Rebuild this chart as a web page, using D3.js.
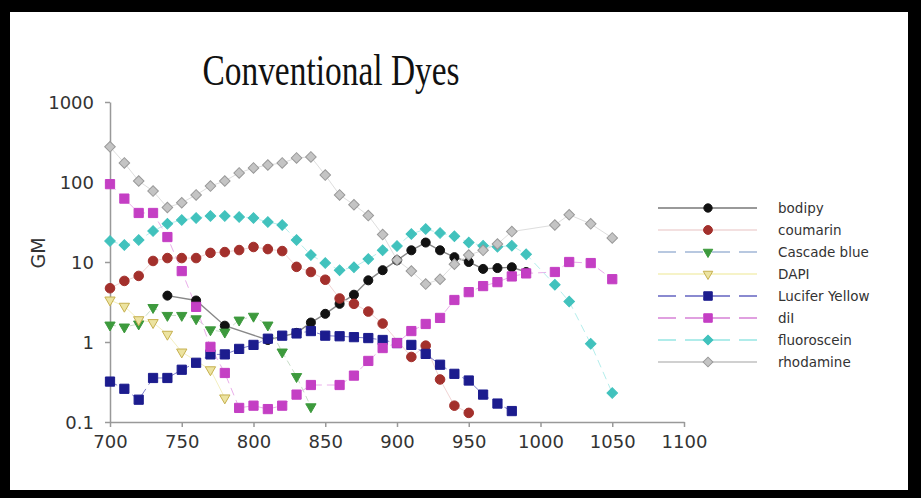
<!DOCTYPE html>
<html>
<head>
<meta charset="utf-8">
<script src="https://cdn.jsdelivr.net/npm/d3@7"></script>
<style>
  html, body { margin: 0; padding: 0; background: #000; }
  svg { display: block; }
</style>
</head>
<body>
<svg width="921" height="498"></svg>
<script>
// wavelength (nm) / GM pairs
const bodipy = [[740,3.8],[760,3.3],[780,1.6],[810,1.06],[830,1.3],[840,1.75],[850,2.25],[860,3.0],[870,3.9],[880,5.9],[890,7.9],[900,10.5],[910,14],[920,17.5],[930,14],[940,11.5],[950,10],[960,8.2],[970,8.4],[980,8.6],[990,7.5]];
const coumarin = [[700,4.7],[710,5.8],[720,6.7],[730,10.3],[740,11.2],[750,11.2],[760,11.2],[770,13],[780,13.3],[790,14.1],[800,15.4],[810,14.5],[820,13.7],[830,8.7],[840,7.5],[850,6.0],[860,3.5],[870,3.0],[880,2.4],[890,1.7],[910,0.65],[920,0.9],[930,0.34],[940,0.16],[950,0.13]];
const cascadeBlue = [[700,1.63],[710,1.54],[720,1.68],[730,2.7],[740,2.15],[750,2.15],[760,1.95],[770,1.42],[780,1.33],[790,1.88],[800,2.1],[810,1.63],[820,0.75],[830,0.37],[840,0.155]];
const dapi = [[700,3.35],[710,2.8],[720,1.9],[730,1.75],[740,1.25],[750,0.75],[770,0.45],[780,0.2]];
const luciferYellow = [[700,0.32],[710,0.26],[720,0.19],[730,0.355],[740,0.355],[750,0.45],[760,0.55],[770,0.7],[780,0.7],[790,0.82],[800,0.92],[810,1.1],[820,1.2],[830,1.28],[840,1.37],[850,1.2],[860,1.18],[870,1.15],[880,1.12],[890,1.06],[900,0.97],[910,0.92],[920,0.71],[930,0.52],[940,0.4],[950,0.33],[960,0.22],[970,0.17],[980,0.137]];
const diI = [[700,94],[710,62],[720,41],[730,41],[740,20.5],[750,7.7],[760,2.75],[770,0.87],[780,0.41],[790,0.15],[800,0.16],[810,0.145],[820,0.16],[830,0.22],[840,0.29],[860,0.29],[870,0.38],[880,0.58],[890,0.84],[900,0.97],[910,1.37],[920,1.68],[930,2.0],[940,3.35],[950,4.2],[960,5.0],[970,5.6],[980,6.6],[990,7.2],[1010,7.5],[1020,10],[1035,9.7],[1050,6.1]];
const fluoroscein = [[700,18.3],[710,16.3],[720,18.8],[730,24.4],[740,30],[750,33.5],[760,35.5],[770,37.5],[780,37.5],[790,36.5],[800,35.5],[810,31.6],[820,29],[830,18.8],[840,12.2],[850,9.7],[860,7.9],[870,8.6],[880,10.9],[890,14],[900,15.8],[910,22.4],[920,25.8],[930,23],[940,21],[950,17.5],[960,16],[970,15.5],[980,16],[990,12.5],[1010,5.2],[1020,3.2],[1035,0.95],[1050,0.23]];
const rhodamine = [[700,275],[710,173],[720,103],[730,77],[740,48],[750,55],[760,69],[770,89],[780,103],[790,130],[800,150],[810,163],[820,173],[830,200],[840,206],[850,122],[860,69],[870,52],[880,38],[890,22],[900,10.6],[910,7.7],[920,5.3],[930,6.1],[940,9.4],[950,12.2],[960,14],[970,16.8],[980,24],[1010,29],[1020,39],[1035,30],[1050,20]];

const seriesNames = ["bodipy", "coumarin", "Cascade blue", "DAPI", "Lucifer Yellow", "diI", "fluoroscein", "rhodamine"];
const seriesData = [bodipy, coumarin, cascadeBlue, dapi, luciferYellow, diI, fluoroscein, rhodamine];
const xTicks = [700, 750, 800, 850, 900, 950, 1000, 1050, 1100];
const yTicks = [0.1, 1, 10, 100, 1000];

// look of each series
const styles = [
    {shape: "circle",   size: 64,  fill: "#111",    stroke: "#111",    line: "#888",    lw: 1.4, dash: null,  legendLine: "#999"},
    {shape: "circle",   size: 72,  fill: "#a3302c", stroke: "#a3302c", line: "#f1d4d4", lw: 1,   dash: null,  legendLine: "#f3e0e0"},
    {shape: "triangle", size: 46,  fill: "#3d9a3d", stroke: "#3d9a3d", line: "#c8ddc8", lw: 1,   dash: "6,4", legendLine: "#b8c8e0"},
    {shape: "triangle", size: 46,  fill: "#ece3a0", stroke: "#c6b04e", line: "#f4f0c0", lw: 1,   dash: null,  legendLine: "#f6f3c8"},
    {shape: "square",   size: 85,  fill: "#1c1c8e", stroke: "#1c1c8e", line: "#8080cc", lw: 1,   dash: "8,5", legendLine: "#8a8ad0"},
    {shape: "square",   size: 85,  fill: "#c43fc4", stroke: "#c43fc4", line: "#eaaeea", lw: 1,   dash: "8,5", legendLine: "#e0a0e0"},
    {shape: "diamond",  size: 56,  fill: "#41c2bd", stroke: "#41c2bd", line: "#b4eeec", lw: 1,   dash: "8,5", legendLine: "#b0ecea"},
    {shape: "diamond",  size: 56,  fill: "#c4c4c4", stroke: "#999",    line: "#dedede", lw: 1,   dash: null,  legendLine: "#d0d0d0"}
];

const svg = d3.select("svg");

// black frame round a white page
svg.append("rect").attr("x", 0).attr("y", 0).attr("width", 921).attr("height", 498).attr("fill", "#000");
svg.append("rect").attr("x", 10).attr("y", 12).attr("width", 898).attr("height", 478).attr("fill", "#fff");

const x = d3.scaleLinear().domain([700, 1100]).range([110, 684]);
const y = d3.scaleLog().domain([0.1, 1000]).range([422, 102]);

function symbolPath(shape, size) {
    if (shape === "circle") return d3.symbol(d3.symbolCircle, size)();
    if (shape === "triangle") return d3.symbol(d3.symbolTriangle, size)();
    return d3.symbol(d3.symbolSquare, size)();
}
function symbolRotate(shape) {
    if (shape === "triangle") return 180;
    if (shape === "diamond") return 45;
    return 0;
}

// title
svg.append("text")
    .attr("transform", "translate(331,85) scale(0.76,1)")
    .attr("text-anchor", "middle")
    .attr("font-family", "Liberation Serif, Times New Roman, serif")
    .attr("font-size", 44)
    .attr("fill", "#111")
    .text("Conventional Dyes");

// axes
const xAxis = d3.axisBottom(x).tickValues(xTicks).tickSize(5).tickSizeOuter(0).tickFormat(d3.format("d"));
const yAxis = d3.axisLeft(y).tickValues(yTicks).tickSize(5).tickSizeOuter(0).tickFormat(d => d < 1 ? "0.1" : d3.format("d")(d));

const gx = svg.append("g").attr("transform", "translate(0,422)").call(xAxis);
const gy = svg.append("g").attr("transform", "translate(110,0)").call(yAxis);

[gx, gy].forEach(g => {
    g.select(".domain").attr("stroke", "#999").attr("stroke-width", 1.5);
    g.selectAll(".tick line").attr("stroke", "#999").attr("stroke-width", 1.5);
    g.selectAll(".tick text")
        .attr("font-family", "DejaVu Sans, sans-serif")
        .attr("font-size", 18)
        .attr("fill", "#333");
});
gx.selectAll(".tick text").attr("dy", "1.0em");
gy.selectAll(".tick text").attr("x", -16).attr("dy", "0.35em");

svg.append("text")
    .attr("transform", "translate(45,253) rotate(-90)")
    .attr("text-anchor", "middle")
    .attr("font-family", "DejaVu Sans, sans-serif")
    .attr("font-size", 19)
    .attr("fill", "#333")
    .text("GM");

// series
const line = d3.line().x(d => x(d[0])).y(d => y(d[1]));
const plot = svg.append("g");

seriesData.forEach((data, i) => {
    const s = styles[i];
    plot.append("path")
        .datum(data)
        .attr("d", line)
        .attr("fill", "none")
        .attr("stroke", s.line)
        .attr("stroke-width", s.lw)
        .attr("stroke-dasharray", s.dash);
});
seriesData.forEach((data, i) => {
    const s = styles[i];
    plot.append("g").selectAll("path")
        .data(data)
        .join("path")
        .attr("d", symbolPath(s.shape, s.size))
        .attr("transform", d => `translate(${x(d[0])},${y(d[1])}) rotate(${symbolRotate(s.shape)})`)
        .attr("fill", s.fill)
        .attr("stroke", s.stroke)
        .attr("stroke-width", 1);
});

// legend
const legend = svg.append("g").attr("transform", "translate(658,208)");
seriesNames.forEach((name, i) => {
    const s = styles[i];
    const row = legend.append("g").attr("transform", `translate(0,${i * 22})`);
    row.append("line")
        .attr("x1", 0).attr("x2", 99).attr("y1", 0).attr("y2", 0)
        .attr("stroke", s.legendLine)
        .attr("stroke-width", 2)
        .attr("stroke-dasharray", s.dash ? "18,9" : null);
    row.append("path")
        .attr("d", symbolPath(s.shape, s.size * 0.85))
        .attr("transform", `translate(50,0) rotate(${symbolRotate(s.shape)})`)
        .attr("fill", s.fill)
        .attr("stroke", s.stroke);
    row.append("text")
        .attr("x", 120)
        .attr("dy", "0.35em")
        .attr("font-family", "DejaVu Sans, sans-serif")
        .attr("font-size", 13.5)
        .attr("fill", "#333")
        .text(name);
});
</script>
</body>
</html>
